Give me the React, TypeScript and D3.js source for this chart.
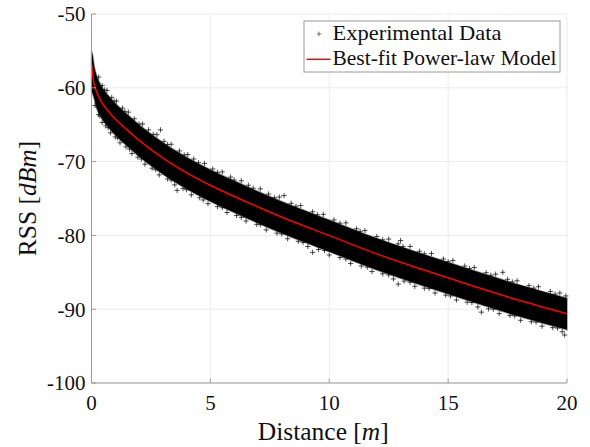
import * as d3 from 'd3'

// best-fit power-law model
const modelDist = [0.01, 0.05, 0.1, 0.2, 0.35, 0.5, 0.75, 1, 1.5, 2, 3, 4, 5, 6, 8, 10, 12, 14, 16, 18, 20]
const modelRss = [-56.9, -58.3, -59.3, -60.4, -61.5, -62.3, -63.3, -64.2, -65.7, -67.1, -69.5, -71.5, -73.2, -74.7, -77.5, -80.0, -82.5, -84.7, -86.8, -88.8, -90.6]

// envelope of the dense cloud of experimental points
const envDist = [0, 0.05, 0.1, 0.2, 0.35, 0.5, 0.75, 1, 1.5, 2, 3, 4, 5, 6, 8, 10, 12, 14, 16, 18, 20]
const envUpper = [-55.0, -55.6, -56.8, -58.2, -59.4, -60.2, -61.2, -62.1, -63.6, -65.0, -67.4, -69.4, -71.1, -72.6, -75.4, -77.9, -80.4, -82.6, -84.7, -86.7, -88.5]
const envLower = [-60.5, -60.8, -61.3, -62.6, -63.7, -64.5, -65.5, -66.4, -67.9, -69.3, -71.7, -73.7, -75.4, -76.9, -79.7, -82.2, -84.7, -86.9, -89.0, -91.0, -92.8]

// stray markers along the ragged edges of the cloud
const strayAbove: [number, number][] = [
  [0.3, -58.55], [0.45, -59.7], [0.55, -60.3], [0.65, -60.35], [0.85, -61.3], [0.95, -61.8], [1.05, -61.8],
  [1.3, -62.75], [1.4, -63.2], [1.55, -63.3], [1.8, -64.2], [2.0, -64.9], [2.15, -64.9], [2.4, -65.7],
  [2.6, -66.3], [2.75, -66.35], [2.9, -65.7], [3.05, -67.25], [3.2, -67.7], [3.35, -67.65], [3.7, -68.55],
  [3.9, -69.1], [4.05, -69.05], [4.3, -69.65], [4.5, -70.15], [4.75, -70.25], [5.1, -71.0], [5.3, -71.45],
  [5.5, -71.4], [5.85, -72.1], [6.0, -72.5], [6.3, -72.6], [6.6, -73.2], [6.8, -73.6], [7.1, -73.7],
  [7.45, -74.4], [7.7, -74.9], [7.9, -74.8], [8.1, -74.6], [8.4, -75.65], [8.6, -76.05], [8.8, -75.95],
  [9.3, -76.8], [9.5, -77.2], [9.75, -77.15], [10.2, -77.9], [10.45, -78.35], [10.7, -78.3], [11.15, -79.1],
  [11.3, -79.45], [11.5, -79.35], [12.0, -80.15], [12.25, -80.6], [12.5, -80.5], [12.9, -81.15], [13.0, -80.7],
  [13.1, -81.5], [13.4, -81.5], [13.8, -82.15], [14.0, -82.5], [14.3, -82.45], [14.8, -83.2], [15.0, -83.55],
  [15.2, -83.4], [15.7, -84.15], [15.9, -84.5], [16.1, -84.35], [16.6, -85.05], [16.8, -85.4], [17.0, -85.25],
  [17.3, -85.0], [17.5, -85.95], [17.7, -86.3], [17.9, -86.15], [18.4, -86.8], [18.6, -87.15], [18.8, -86.95],
  [19.3, -87.6], [19.5, -87.95], [19.7, -87.8], [19.95, -88.2],
]
const strayBelow: [number, number][] = [
  [0.15, -62.4], [0.3, -63.6], [0.35, -63.8], [0.45, -64.7], [0.6, -65.15], [0.7, -65.4], [0.8, -66.1],
  [1.0, -66.65], [1.1, -66.8], [1.2, -67.45], [1.45, -68.0], [1.6, -68.3], [1.7, -68.9], [1.95, -69.4],
  [2.1, -69.64], [2.25, -70.35], [2.55, -70.9], [2.7, -71.1], [2.85, -71.8], [3.2, -72.35], [3.35, -72.5],
  [3.5, -73.15], [3.6, -73.9], [3.85, -73.65], [4.0, -73.8], [4.2, -74.5], [4.55, -74.9], [4.7, -75.2],
  [4.9, -75.7], [5.3, -76.1], [5.5, -76.25], [5.7, -76.9], [6.1, -77.3], [6.3, -77.55], [6.5, -78.05],
  [6.95, -78.5], [7.1, -78.55], [7.35, -79.25], [7.8, -79.7], [8.0, -79.8], [8.25, -80.45], [8.7, -80.8],
  [8.9, -80.95], [9.1, -81.5], [9.3, -82.3], [9.55, -81.9], [9.8, -82.05], [10.0, -82.65], [10.45, -83.0],
  [10.7, -83.2], [10.9, -83.8], [11.35, -84.15], [11.6, -84.3], [11.8, -84.9], [12.25, -85.2], [12.5, -85.35],
  [12.7, -85.9], [12.9, -86.6], [13.15, -86.2], [13.4, -86.35], [13.6, -86.9], [14.0, -87.15], [14.2, -87.2],
  [14.45, -87.8], [14.9, -88.1], [15.1, -88.2], [15.35, -88.75], [15.8, -89.05], [16.0, -89.1], [16.25, -89.7],
  [16.4, -90.4], [16.7, -89.95], [16.9, -90.0], [17.15, -90.6], [17.6, -90.85], [17.8, -90.9], [18.05, -91.5],
  [18.5, -91.7], [18.7, -91.75], [18.95, -92.3], [19.4, -92.5], [19.6, -92.55], [19.8, -93.05], [19.9, -93.5],
]

const xTicks = [0, 5, 10, 15, 20]
const yTicks = [-100, -90, -80, -70, -60, -50]

const FONT = '"Liberation Serif", "Times New Roman", serif'
const AXIS = '#9a9a9a'
const GRID = '#ececec'

const cross = (cx: number, cy: number, s: number) =>
  `M${cx - s},${cy}h${2 * s}M${cx},${cy - s}v${2 * s}`

export default function App() {
  const x = d3.scaleLinear().domain([0, 20]).range([91.5, 567])
  const y = d3.scaleLinear().domain([-100, -50]).range([383, 14])
  const [x0, x1] = x.range()
  const [y0, y1] = y.range()

  const band = d3.area<number>()
    .x(i => x(envDist[i]))
    .y0(i => y(envLower[i]))
    .y1(i => y(envUpper[i]))
    .curve(d3.curveMonotoneX)

  const model = d3.line<number>()
    .x(i => x(modelDist[i]))
    .y(i => y(modelRss[i]))
    .curve(d3.curveMonotoneX)

  const strays = [...strayAbove, ...strayBelow].map(([d, v]) => cross(x(d), y(v), 2.6)).join('')
  const bandPath = band(envDist.map((_, i) => i)) ?? ''

  return (
    <svg width={590} height={447} style={{ position: 'absolute', left: 0, top: 0, background: '#fff' }}
      fontFamily={FONT}>
      {/* grid */}
      {xTicks.map(t => <line key={'gx' + t} x1={x(t)} x2={x(t)} y1={y0} y2={y1} stroke={GRID} />)}
      {yTicks.map(t => <line key={'gy' + t} x1={x0} x2={x1} y1={y(t)} y2={y(t)} stroke={GRID} />)}

      {/* experimental data */}
      <path d={bandPath} fill="#000" stroke="#000" strokeWidth={1.5} strokeOpacity={0.4} />
      <path d={strays} stroke="#111" strokeWidth={0.75} fill="none" />

      {/* model */}
      <path d={model(modelDist.map((_, i) => i)) ?? ''} stroke="#ff0000" strokeWidth={1.5} fill="none" />

      {/* axes */}
      <line x1={x0} x2={x1} y1={y0} y2={y0} stroke={AXIS} />
      <line x1={x0} x2={x0} y1={y0} y2={y1} stroke={AXIS} />
      {xTicks.map(t => <line key={'tx' + t} x1={x(t)} x2={x(t)} y1={y0} y2={y0 - 4.5} stroke={AXIS} />)}
      {yTicks.map(t => <line key={'ty' + t} x1={x0} x2={x0 + 4.5} y1={y(t)} y2={y(t)} stroke={AXIS} />)}

      {xTicks.map(t => (
        <text key={'lx' + t} x={x(t)} y={y0 + 27} fontSize={21} textAnchor="middle" fill="#111">{t}</text>
      ))}
      {yTicks.map(t => (
        <text key={'ly' + t} x={x0 - 6} y={y(t)} dy="0.35em" fontSize={21} textAnchor="end" fill="#111">{t}</text>
      ))}

      <text x={(x0 + x1) / 2 - 6} y={440} fontSize={25.5} textAnchor="middle" fill="#111">
        Distance [<tspan fontStyle="italic">m</tspan>]
      </text>
      <text transform={`translate(36,${(y0 + y1) / 2}) rotate(-90)`} fontSize={25.5} textAnchor="middle" fill="#111">
        RSS [<tspan fontStyle="italic">dBm</tspan>]
      </text>

      {/* legend */}
      <rect x={304} y={21} width={256} height={51} fill="#fff" stroke={AXIS} />
      <path d={cross(319, 34, 2.3)} stroke="#444" strokeWidth={0.7} />
      <text x={332.5} y={39.5} fontSize={21} fill="#111" textLength={169} lengthAdjust="spacingAndGlyphs">
        Experimental Data
      </text>
      <line x1={306.5} x2={330.5} y1={59.3} y2={59.3} stroke="#ff0000" strokeWidth={1.5} />
      <text x={332.5} y={65} fontSize={21} fill="#111" textLength={224} lengthAdjust="spacingAndGlyphs">
        Best-fit Power-law Model
      </text>
    </svg>
  )
}
